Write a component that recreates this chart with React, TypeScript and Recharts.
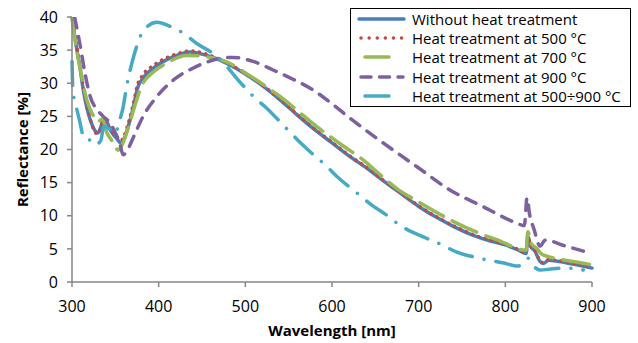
import { LineChart, Line, XAxis, YAxis, Legend, Label } from "recharts";

// wavelength [nm] / reflectance [%]
const wlNone = [300, 305, 309, 313, 317, 321, 325, 330, 333, 336, 340, 344, 348, 352, 356, 360, 365, 371, 375, 382, 394, 410, 425, 436, 450, 465, 480, 500, 520, 540, 560, 580, 600, 620, 640, 660, 680, 700, 720, 740, 760, 780, 800, 815, 824, 826, 829, 834, 840, 844, 850, 870, 900];
const rNone = [40, 35.5, 32.5, 29, 26.4, 24.5, 23.2, 22.5, 23.3, 24.4, 24.2, 23.0, 22.2, 21.6, 21.0, 21.6, 23.5, 26.5, 29, 30.8, 32.3, 33.6, 34.4, 34.7, 34.4, 33.8, 32.9, 31.4, 29.6, 27.5, 25.2, 23.0, 21.0, 19.0, 17.2, 15.2, 13.3, 11.4, 9.8, 8.4, 7.2, 6.3, 5.6, 4.8, 4.3, 6.9, 5.4, 4.7, 3.1, 2.8, 3.3, 2.9, 2.1];

const wl500 = [300, 305, 309, 313, 317, 321, 325, 330, 333, 336, 340, 344, 348, 352, 356, 360, 365, 371, 375, 382, 394, 410, 425, 436, 450, 465, 480, 500, 520, 540, 560, 580, 600, 620, 640, 660, 680, 700, 720, 740, 760, 780, 800, 815, 824, 826, 829, 834, 840, 844, 850, 870, 900];
const r500 = [40, 36, 33, 29.5, 26.6, 24.6, 23.0, 22.3, 23.2, 24.3, 24.1, 23.1, 22.4, 21.8, 21.3, 22.0, 24.0, 27.0, 29.5, 31.3, 32.7, 33.9, 34.6, 34.9, 34.6, 33.9, 33.0, 31.5, 29.7, 27.6, 25.3, 23.1, 21.1, 19.1, 17.3, 15.3, 13.4, 11.5, 9.9, 8.5, 7.3, 6.4, 5.7, 4.9, 4.4, 7.0, 5.5, 4.8, 3.2, 2.9, 3.4, 3.0, 2.2];

const wl700 = [300, 303, 309, 317, 325, 330, 335, 340, 348, 353, 357, 363, 372, 380, 394, 409, 432, 455, 479, 502, 540, 586, 609, 638, 652, 678, 696, 725, 742, 773, 790, 824, 826, 830, 836, 842, 848, 878, 900];
const r700 = [40, 37, 32.5, 27.5, 25.0, 24.2, 24.6, 22.6, 21.0, 19.9, 20.5, 22.5, 26.4, 29.5, 31.7, 33.0, 34.2, 34.0, 33.2, 31.4, 28.0, 23.1, 20.9, 18.2, 16.6, 13.8, 12.4, 10.2, 9.0, 7.2, 6.4, 4.8, 7.6, 5.8, 5.1, 4.2, 3.9, 3.1, 2.6];

const wl900 = [303, 309, 315, 321, 329, 336, 344, 350, 355, 359, 363, 371, 382, 398, 417, 440, 463, 486, 509, 532, 555, 578, 600, 621, 659, 698, 736, 774, 813, 822, 825, 828, 833, 840, 846, 870, 900];
const r900 = [40, 36, 31.5, 28, 26, 25, 24, 22.5, 21, 19.2, 19.7, 21.9, 25, 28, 30.5, 32.3, 33.5, 33.9, 33.3, 32.0, 30.6, 29.0, 26.9, 24.7, 21.0, 17.4, 13.9, 11.4, 8.9, 8.5, 12.7, 10.2, 8.0, 5.4, 6.3, 5.4, 4.3];

const wlMix = [300, 301, 305, 309, 313, 318, 323, 328, 333, 337, 342, 346, 350, 354, 359, 363, 369, 375, 382, 398, 413, 428, 444, 467, 497, 511, 525, 545, 563, 577, 592, 606, 632, 646, 663, 678, 709, 727, 744, 763, 797, 815, 826, 832, 840, 855, 871, 890];
const rMix = [33.3, 29, 26.4, 24.2, 22, 21.4, 21.5, 20.8, 21.3, 23.5, 23.2, 22.8, 22.4, 24, 26.4, 29.5, 33, 35.7, 37.9, 39.2, 38.6, 37.6, 36, 34.1, 29.7, 27.8, 26.2, 23.5, 21.1, 19.4, 17.7, 15.9, 13.1, 11.6, 10.1, 8.6, 6.6, 5.6, 4.5, 3.8, 2.9, 2.4, 3.6, 2.5, 1.8, 2.0, 2.1, 1.8];

const xTicks = [300, 400, 500, 600, 700, 800, 900];
const yTicks = [0, 5, 10, 15, 20, 25, 30, 35, 40];

const toPoints = (xs: number[], ys: number[]) => xs.map((x, i) => ({ x, y: ys[i] }));

const series = [
  { name: "Without heat treatment", color: "#4A7EBB", dash: undefined, data: toPoints(wlNone, rNone), legend: { dash: undefined, x1: 0, x2: 47 } },
  { name: "Heat treatment at 500 °C", color: "#BE4B48", dash: "0.1 6.5", data: toPoints(wl500, r500), legend: { dash: "0.1 8", x1: 2, x2: 47 } },
  { name: "Heat treatment at 700 °C", color: "#98B954", dash: "27 10", data: toPoints(wl700, r700), legend: { dash: undefined, x1: 6, x2: 32 } },
  { name: "Heat treatment at 900 °C", color: "#7D60A0", dash: "11 9", data: toPoints(wl900, r900), legend: { dash: "10 8.5", x1: 2, x2: 46 } },
  { name: "Heat treatment at 500÷900 °C", color: "#46AAC5", dash: "24 12 0.1 12", data: toPoints(wlMix, rMix), legend: { dash: undefined, x1: 6, x2: 32 } },
];

const font = '"Open Sans", sans-serif';

function LegendBox() {
  return (
    <div style={{ border: "1px solid #000", background: "#fff", width: 279, height: 97, fontFamily: font, fontSize: 15, color: "#000" }}>
      {series.map((s) => (
        <div key={s.name} style={{ display: "flex", alignItems: "center", height: 19.4, whiteSpace: "nowrap" }}>
          <svg width={54} height={8} style={{ marginLeft: 6 }}>
            <line x1={s.legend.x1 + 2} x2={s.legend.x2} y1={4} y2={4} stroke={s.color} strokeWidth={3.5}
              strokeDasharray={s.legend.dash} strokeLinecap="round" />
          </svg>
          <span style={{ marginLeft: 1 }}>{s.name}</span>
        </div>
      ))}
    </div>
  );
}

export default function App() {
  return (
    <div style={{ position: "absolute", left: 0, top: 0, width: 638, height: 343, background: "#fff" }}>
      <LineChart width={638} height={343} margin={{ top: 17, right: 46, bottom: 0, left: 0 }}>
        <XAxis
          dataKey="x"
          type="number"
          domain={[300, 900]}
          ticks={xTicks}
          height={61}
          stroke="#868686"
          strokeWidth={1.5}
          tickSize={5}
          tickMargin={14}
          tick={{ fill: "#000", fontSize: 16, fontFamily: font }}
          allowDuplicatedCategory={false}
        >
          <Label value="Wavelength [nm]" position="insideBottom" offset={7}
            style={{ fontFamily: font, fontSize: 15, fontWeight: 700, fill: "#000" }} />
        </XAxis>
        <YAxis
          type="number"
          domain={[0, 40]}
          ticks={yTicks}
          allowDataOverflow
          width={72}
          stroke="#868686"
          strokeWidth={1.5}
          tickSize={5}
          tickMargin={9}
          tick={{ fill: "#000", fontSize: 16, fontFamily: font }}
        >
          <Label
            content={({ viewBox }: any) => {
              const cx = viewBox.x + 22;
              const cy = viewBox.y + viewBox.height / 2;
              return (
                <text x={cx} y={cy} transform={`rotate(-90, ${cx}, ${cy})`} textAnchor="middle" dominantBaseline="central"
                  style={{ fontFamily: font, fontSize: 15, fontWeight: 700, fill: "#000" }}>
                  Reflectance [%]
                </text>
              );
            }}
          />
        </YAxis>
        <Legend
          layout="vertical"
          align="center"
          verticalAlign="middle"
          content={<LegendBox />}
          wrapperStyle={{ left: 350, top: 8, width: 281, height: 99, bottom: "auto", right: "auto" }}
        />
        {series.map((s) => (
          <Line
            key={s.name}
            name={s.name}
            data={s.data}
            dataKey="y"
            type="monotone"
            stroke={s.color}
            strokeWidth={3.5}
            strokeDasharray={s.dash}
            strokeLinecap="round"
            dot={false}
            activeDot={false}
            isAnimationActive={false}
          />
        ))}
      </LineChart>
    </div>
  );
}
